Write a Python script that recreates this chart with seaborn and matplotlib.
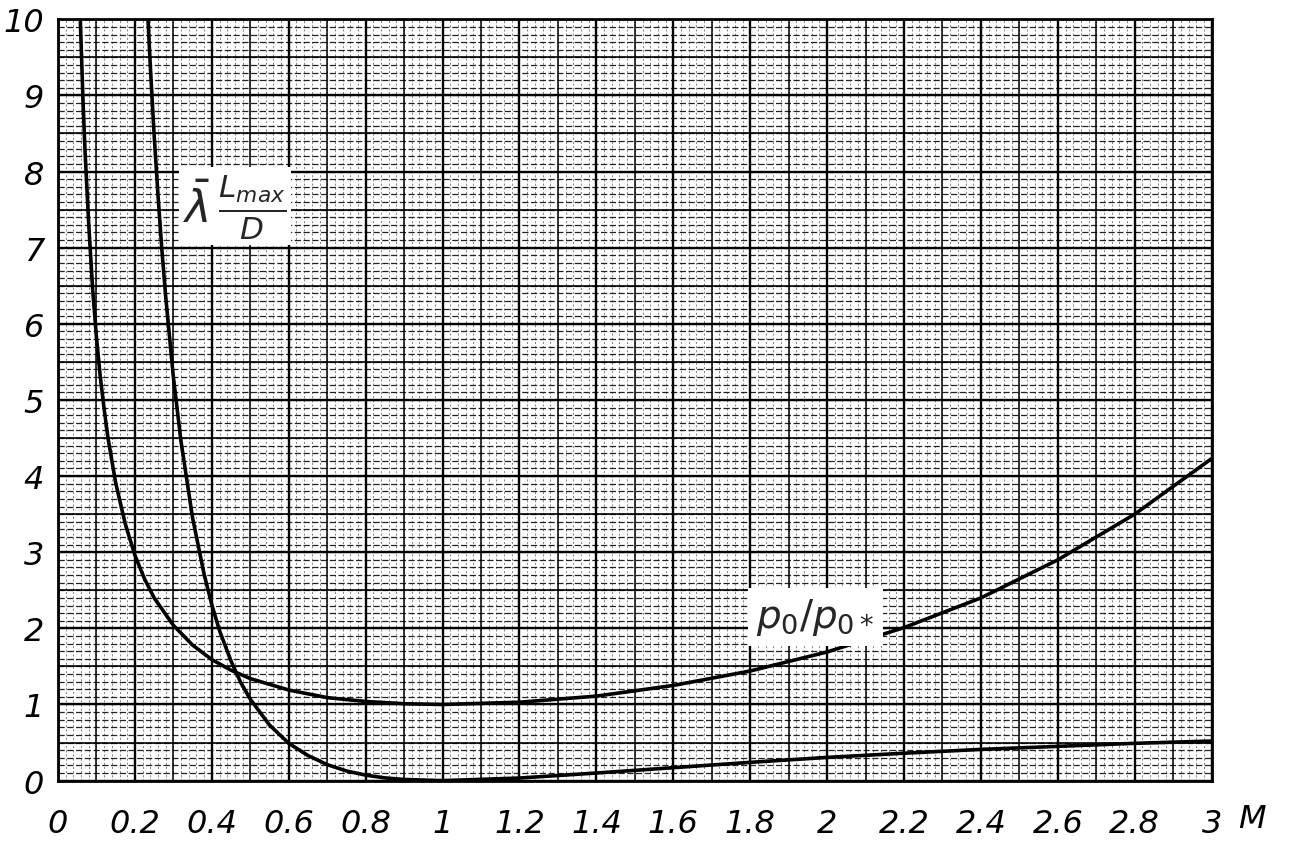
import numpy as np
import pandas as pd
import matplotlib.pyplot as plt
import seaborn as sns

# Mach number and stagnation pressure ratio p0/p0*
mach_p0 = [0.058, 0.065, 0.07, 0.08, 0.09, 0.1, 0.11, 0.12, 0.13, 0.15, 0.175, 0.2, 0.225,
           0.25, 0.3, 0.35, 0.4, 0.45, 0.5, 0.6, 0.7, 0.8, 0.9, 1.0, 1.2, 1.4, 1.6, 1.8,
           2.0, 2.2, 2.4, 2.6, 2.8, 3.0]
p0_ratio = [10.0, 8.93, 8.3, 7.3, 6.46, 5.82, 5.30, 4.88, 4.50, 3.91, 3.37, 2.96, 2.65,
            2.40, 2.04, 1.78, 1.59, 1.45, 1.34, 1.19, 1.09, 1.04, 1.01, 1.0, 1.03, 1.11,
            1.25, 1.44, 1.69, 2.01, 2.40, 2.90, 3.50, 4.23]

# Mach number and friction parameter lambda*Lmax/D
mach_fr = [0.234, 0.24, 0.25, 0.26, 0.27, 0.28, 0.3, 0.32, 0.35, 0.38, 0.4, 0.42, 0.45,
           0.475, 0.5, 0.55, 0.6, 0.65, 0.7, 0.75, 0.8, 0.85, 0.9, 1.0, 1.2, 1.4, 1.6,
           1.8, 2.0, 2.2, 2.4, 2.6, 2.8, 3.0]
friction = [10.0, 9.39, 8.48, 7.69, 6.98, 6.36, 5.30, 4.45, 3.45, 2.71, 2.31, 1.97, 1.57,
            1.29, 1.07, 0.73, 0.49, 0.33, 0.21, 0.127, 0.072, 0.036, 0.015, 0.0, 0.034,
            0.10, 0.17, 0.24, 0.305, 0.36, 0.41, 0.45, 0.49, 0.52]

x_ticks = [0, 0.2, 0.4, 0.6, 0.8, 1, 1.2, 1.4, 1.6, 1.8, 2, 2.2, 2.4, 2.6, 2.8, 3]
x_labels = ['0', '0.2', '0.4', '0.6', '0.8', '1', '1.2', '1.4', '1.6', '1.8',
            '2', '2.2', '2.4', '2.6', '2.8', '3']
y_ticks = list(range(0, 11))

df = pd.concat([
    pd.DataFrame({'M': mach_p0, 'val': p0_ratio, 'curve': 'p0'}),
    pd.DataFrame({'M': mach_fr, 'val': friction, 'curve': 'friction'}),
])

sns.set_style("white")
plt.rcParams['mathtext.fontset'] = 'dejavusans'

fig = plt.figure(figsize=(12.89, 8.45), dpi=100)
ax = fig.add_axes([0.045, 0.075, 0.895, 0.901])

# graph paper
for v in np.arange(0, 3.001, 0.02):
    ax.axvline(v, color='#555555', lw=0.5, ls=(0, (3, 3)), zorder=0)
for v in np.arange(0, 10.001, 0.1):
    ax.axhline(v, color='#222222', lw=0.9, ls=(0, (5, 2)), zorder=0)
for v in np.arange(0.1, 3.0, 0.2):
    ax.axvline(v, color='black', lw=1.1, zorder=1)
for v in np.arange(0.5, 10, 1.0):
    ax.axhline(v, color='black', lw=1.2, zorder=1)
for v in x_ticks:
    ax.axvline(v, color='black', lw=1.7, zorder=1)
for v in y_ticks:
    ax.axhline(v, color='black', lw=1.7, zorder=1)

sns.lineplot(data=df, x='M', y='val', units='curve', estimator=None, sort=False,
             color='black', lw=2.6, ax=ax, zorder=3, legend=False)

ax.set_xlim(0, 3)
ax.set_ylim(0, 10)
ax.set_xticks(x_ticks)
ax.set_xticklabels(x_labels)
ax.set_yticks(y_ticks)
ax.tick_params(length=0, labelsize=23, pad=20, labelcolor='black')
ax.tick_params(axis='y', pad=10)
for lab in ax.get_xticklabels() + ax.get_yticklabels():
    lab.set_fontstyle('italic')
ax.set_xlabel('')
ax.set_ylabel('')
for s in ax.spines.values():
    s.set_color('black')
    s.set_linewidth(2)

ax.text(3.07, -0.5, 'M', fontsize=23, style='italic', ha='left', va='center',
        color='black')

ax.text(0.46, 7.55, r'$\bar{\mathit{\lambda}}\,\frac{\mathit{L_{max}}}{\mathit{D}}$',
        fontsize=32, ha='center', va='center', zorder=4,
        bbox=dict(facecolor='white', edgecolor='none', pad=3))
ax.text(1.97, 2.15, r'$\mathit{p_0/p_{0*}}$', fontsize=28, ha='center', va='center', zorder=4,
        bbox=dict(facecolor='white', edgecolor='none', pad=6))

fig.savefig('out.png', dpi=100)
